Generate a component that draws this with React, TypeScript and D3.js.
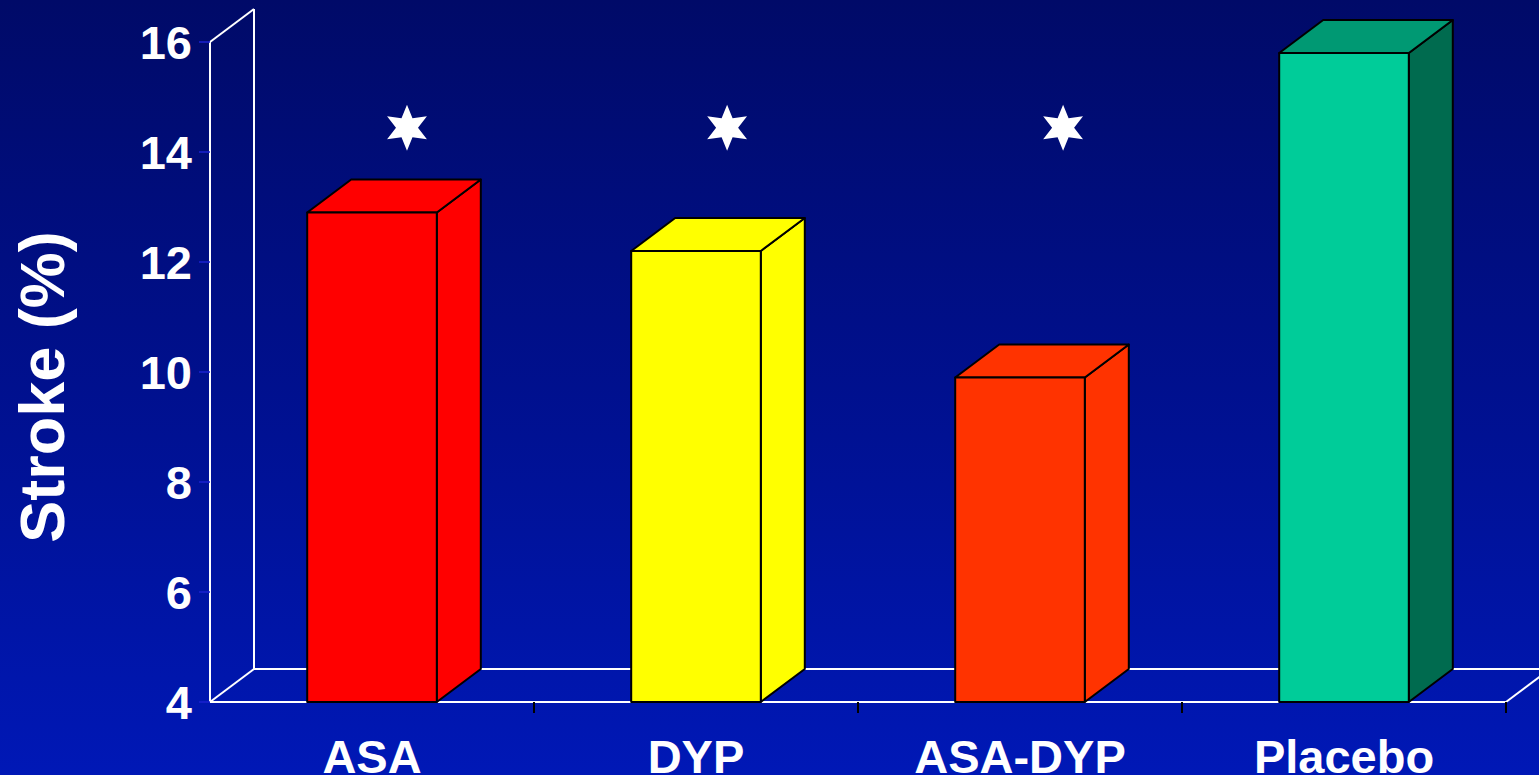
import React from "react";
import * as d3 from "d3";

const categories = ["ASA", "DYP", "ASA-DYP", "Placebo"];
const strokeRates = [12.9, 12.2, 9.9, 15.8];
const frontColors = ["#ff0000", "#ffff00", "#ff3300", "#00cc99"];
const topColors = ["#ff0000", "#ffff00", "#ff3300", "#009973"];
const sideColors = ["#ff0000", "#ffff00", "#ff3300", "#006b4f"];
const yTicks = [4, 6, 8, 10, 12, 14, 16];
const starCategories = ["ASA", "DYP", "ASA-DYP"];
const starBandPos = [0.608, 0.596, 0.633];
const starLevel = 14.44;
const yTitle = "Stroke (%)";

const W = 1539;
const H = 775;
const DX = 44;
const DY = 33;
const FONT = "'Liberation Sans', Arial, Helvetica, sans-serif";

function starPath(cx: number, cy: number, R: number, r: number) {
  const pts: [number, number][] = [];
  for (let k = 0; k < 12; k++) {
    const a = ((-90 + k * 30) * Math.PI) / 180;
    const rad = k % 2 === 0 ? R : r;
    pts.push([cx + rad * Math.cos(a), cy + rad * Math.sin(a)]);
  }
  return d3.line()(pts) + "Z";
}

export default function App() {
  React.useEffect(() => {
    document.body.style.margin = "0";
  }, []);

  const x = d3.scaleBand<string>().domain(categories).range([210, 1506]);
  const y = d3.scaleLinear().domain([4, 16]).range([702, 42]);
  const bw = x.bandwidth() * 0.4;
  const x0 = x.range()[0];
  const x1 = x.range()[1];
  const yBase = y(4);
  const yTop = y(16);

  return (
    <svg width={W} height={H} style={{ position: "absolute", left: 0, top: 0, display: "block" }}>
      <defs>
        <linearGradient id="bg" x1="0" y1="0" x2="0" y2="1">
          <stop offset="0" stopColor="#000a68" />
          <stop offset="0.5" stopColor="#00108e" />
          <stop offset="1" stopColor="#0018b6" />
        </linearGradient>
      </defs>
      <rect x={0} y={0} width={W} height={H} fill="url(#bg)" />

      {/* walls & floor */}
      <g stroke="#ffffff" strokeWidth={2} fill="none">
        <line x1={x0} y1={yTop} x2={x0} y2={yBase} />
        <line x1={x0} y1={yTop} x2={x0 + DX} y2={yTop - DY} />
        <line x1={x0 + DX} y1={yTop - DY} x2={x0 + DX} y2={yBase - DY} />
        <line x1={x0} y1={yBase} x2={x0 + DX} y2={yBase - DY} />
        <line x1={x0 + DX} y1={yBase - DY} x2={x1 + DX} y2={yBase - DY} />
        <line x1={x0} y1={yBase} x2={x1} y2={yBase} />
        <line x1={x1} y1={yBase} x2={x1 + DX} y2={yBase - DY} />
      </g>

      {/* y ticks */}
      {yTicks.map((t) => (
        <g key={t}>
          <line x1={x0 - 11} x2={x0} y1={y(t)} y2={y(t)} stroke="#1a22d0" strokeWidth={1.5} />
          <text
            x={192}
            y={y(t) + 17}
            textAnchor="end"
            fill="#ffffff"
            fontFamily={FONT}
            fontWeight="bold"
            fontSize={47}
          >
            {t}
          </text>
        </g>
      ))}

      {/* category ticks */}
      {categories.map((c) => (
        <line
          key={c}
          x1={(x(c) as number) + x.bandwidth()}
          x2={(x(c) as number) + x.bandwidth()}
          y1={yBase}
          y2={yBase + 11}
          stroke="#000000"
          strokeWidth={2}
        />
      ))}

      {/* bars */}
      {categories.map((c, i) => {
        const cx = (x(c) as number) + x.bandwidth() / 2;
        const l = cx - bw / 2;
        const r = cx + bw / 2;
        const t = y(strokeRates[i]);
        const b = yBase;
        return (
          <g key={c} stroke="#000000" strokeWidth={2} strokeLinejoin="round">
            <path
              d={`M${r},${t}L${r + DX},${t - DY}L${r + DX},${b - DY}L${r},${b}Z`}
              fill={sideColors[i]}
            />
            <path
              d={`M${l},${t}L${l + DX},${t - DY}L${r + DX},${t - DY}L${r},${t}Z`}
              fill={topColors[i]}
            />
            <rect x={l} y={t} width={bw} height={b - t} fill={frontColors[i]} />
          </g>
        );
      })}

      {/* significance stars */}
      {starCategories.map((c, i) => (
        <path
          key={c}
          d={starPath((x(c) as number) + x.bandwidth() * starBandPos[i], y(starLevel), 23, 11)}
          fill="#ffffff"
        />
      ))}

      {/* category labels */}
      {categories.map((c) => (
        <text
          key={c}
          x={(x(c) as number) + x.bandwidth() / 2}
          y={773}
          textAnchor="middle"
          fill="#ffffff"
          fontFamily={FONT}
          fontWeight="bold"
          fontSize={47}
        >
          {c}
        </text>
      ))}

      {/* y title */}
      <text
        transform={`translate(64,387) rotate(-90)`}
        textAnchor="middle"
        fill="#ffffff"
        fontFamily={FONT}
        fontWeight="bold"
        fontSize={63}
      >
        {yTitle}
      </text>
    </svg>
  );
}
